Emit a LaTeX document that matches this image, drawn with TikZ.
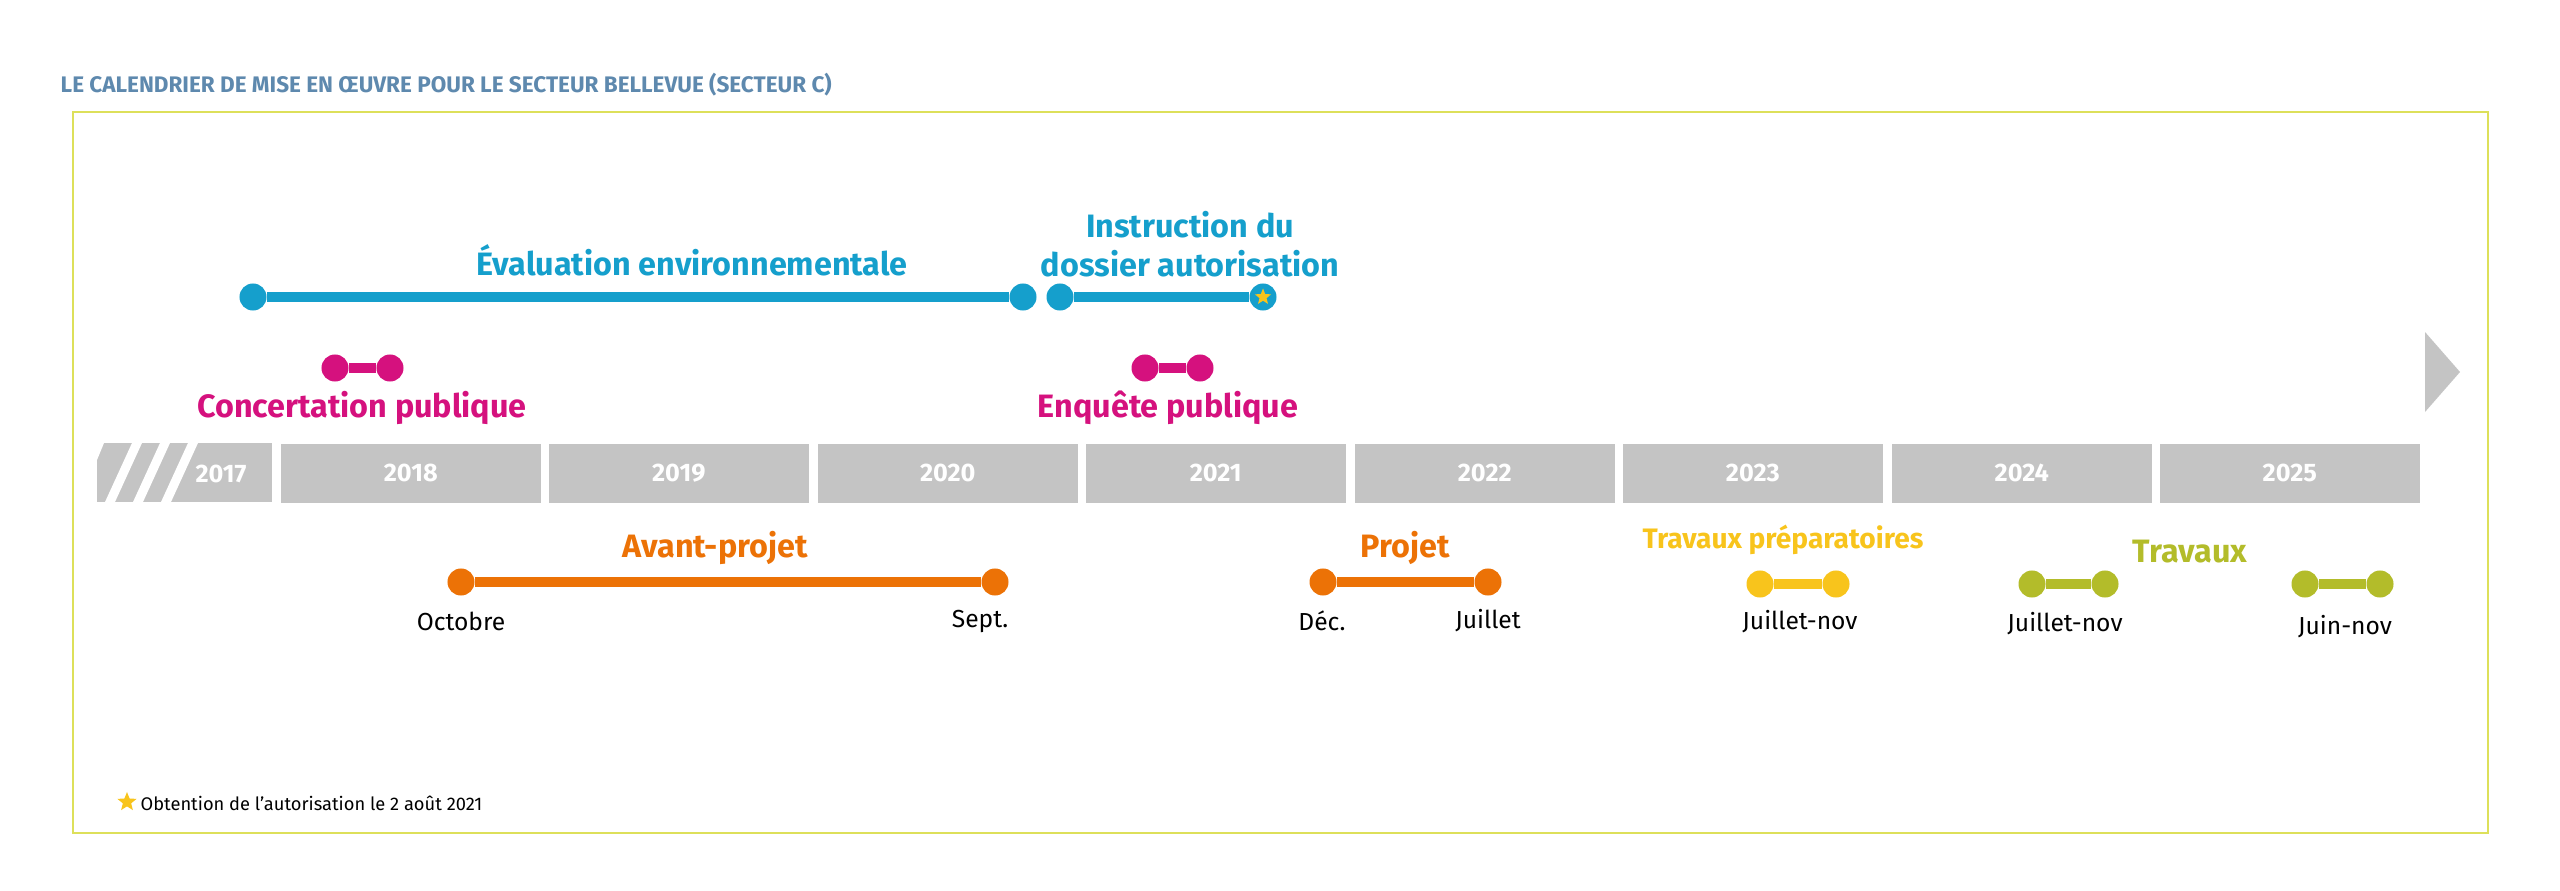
\documentclass[tikz,border=0pt]{standalone}
\usepackage{fontspec}
\setmainfont{Fira Sans}
\usetikzlibrary{shapes.geometric}
\definecolor{blu}{HTML}{159FCC}
\definecolor{mag}{HTML}{D5117E}
\definecolor{ora}{HTML}{EC7206}
\definecolor{yel}{HTML}{F8C41C}
\definecolor{oli}{HTML}{B3BC2A}
\definecolor{gry}{HTML}{C4C4C4}
\definecolor{ttl}{HTML}{5E89AE}
\definecolor{frm}{HTML}{DDE05A}
\tikzset{
  dot/.style={circle,fill=#1,inner sep=0pt,minimum size=0.27cm},
  bar/.style={line width=2.6pt,draw=#1},
  lab/.style={font=\fontsize{9.2}{11}\selectfont\bfseries,text=#1,align=center,inner sep=0pt},
  sub/.style={font=\fontsize{7}{8}\selectfont,inner sep=0pt},
  yr/.style={fill=gry,draw=none,minimum height=0.59cm,inner sep=0pt,font=\fontsize{7.2}{8}\selectfont\bfseries,text=white},
  strn/.style={star,star points=5,star point ratio=2.3,fill=yel,inner sep=0pt,minimum size=#1}
}
\begin{document}
\begin{tikzpicture}[x=0.01cm,y=-0.01cm]
\fill[white] (0,0) rectangle (2560,891);
\useasboundingbox (0,0) rectangle (2560,891);
\draw[frm,line width=0.6pt] (73,112) rectangle (2488,833);
\node[anchor=west,font=\fontsize{6.4}{8}\selectfont\bfseries,text=ttl,inner sep=0pt] (title) at (60,85) {LE CALENDRIER DE MISE EN ŒUVRE POUR LE SECTEUR BELLEVUE (SECTEUR C)};
% year bar
\fill[gry] (97,443) rectangle (272,502);
\foreach \xx in {97,125,153}{\fill[white] (\xx+8,502) -- (\xx+18,502) -- (\xx+45,443) -- (\xx+35,443) -- cycle;}
\fill[white] (90,443) -- (104,443) -- (97,460) -- (90,460) -- cycle;
\node[font=\fontsize{7.2}{8}\selectfont\bfseries,text=white,inner sep=0pt] (y2017) at (221,474) {2017};
\foreach \yy/\xa in {2018/280,2019/548,2020/817,2021/1085,2022/1354,2023/1622,2024/1891,2025/2159}{
  \node[yr,anchor=north west,minimum width=2.6cm] (y\yy) at (\xa,443) {\yy};
}
\fill[gry] (2425,332) -- (2460,372) -- (2425,412) -- cycle;
% blue
\node[dot=blu] (b1) at (253,297) {};
\node[dot=blu] (b2) at (1023,297) {};
\draw[bar=blu] (b1) -- (b2);
\node[dot=blu] (b3) at (1060,297) {};
\node[dot=blu] (b4) at (1263,297) {};
\draw[bar=blu] (b3) -- (b4);
\node[strn=0.17cm] (st) at (b4) {};
\node[lab=blu] (l1) at (692,260) {Évaluation environnementale};
\node[lab=blu] (l2) at (1190,244) {Instruction du\\dossier autorisation};
% magenta
\node[dot=mag] (m1) at (335,368) {};
\node[dot=mag] (m2) at (390,368) {};
\draw[bar=mag] (m1) -- (m2);
\node[lab=mag] (l3) at (362,408) {Concertation publique};
\node[dot=mag] (m3) at (1145,368) {};
\node[dot=mag] (m4) at (1200,368) {};
\draw[bar=mag] (m3) -- (m4);
\node[lab=mag] (l4) at (1168,408) {Enquête publique};
% orange
\node[dot=ora] (o1) at (461,582) {};
\node[dot=ora] (o2) at (995,582) {};
\draw[bar=ora] (o1) -- (o2);
\node[lab=ora] (l5) at (715,548) {Avant-projet};
\node[sub] (s1) at (461,621) {Octobre};
\node[sub] (s2) at (980,621) {Sept.};
\node[dot=ora] (o3) at (1323,582) {};
\node[dot=ora] (o4) at (1488,582) {};
\draw[bar=ora] (o3) -- (o4);
\node[lab=ora] (l6) at (1405,548) {Projet};
\node[sub] (s3) at (1322,621) {Déc.};
\node[sub] (s4) at (1488,621) {Juillet};
% yellow
\node[lab=yel,font=\fontsize{8}{10}\selectfont\bfseries] (l7) at (1783,540) {Travaux préparatoires};
\node[dot=yel] (w1) at (1760,584) {};
\node[dot=yel] (w2) at (1836,584) {};
\draw[bar=yel] (w1) -- (w2);
\node[sub] (s5) at (1800,622) {Juillet-nov};
% olive
\node[lab=oli] (l8) at (2190,552) {Travaux};
\node[dot=oli] (v1) at (2032,584) {};
\node[dot=oli] (v2) at (2105,584) {};
\draw[bar=oli] (v1) -- (v2);
\node[sub] (s6) at (2065,624) {Juillet-nov};
\node[dot=oli] (v3) at (2305,584) {};
\node[dot=oli] (v4) at (2380,584) {};
\draw[bar=oli] (v3) -- (v4);
\node[sub] (s7) at (2345,627) {Juin-nov};
% footnote
\node[strn=0.2cm] (fs) at (127,802) {};
\node[anchor=west,inner sep=0pt,font=\fontsize{5.2}{6}\selectfont] (fn) at (140,803) {Obtention de l’autorisation le 2 août 2021};
\end{tikzpicture}
\end{document}
